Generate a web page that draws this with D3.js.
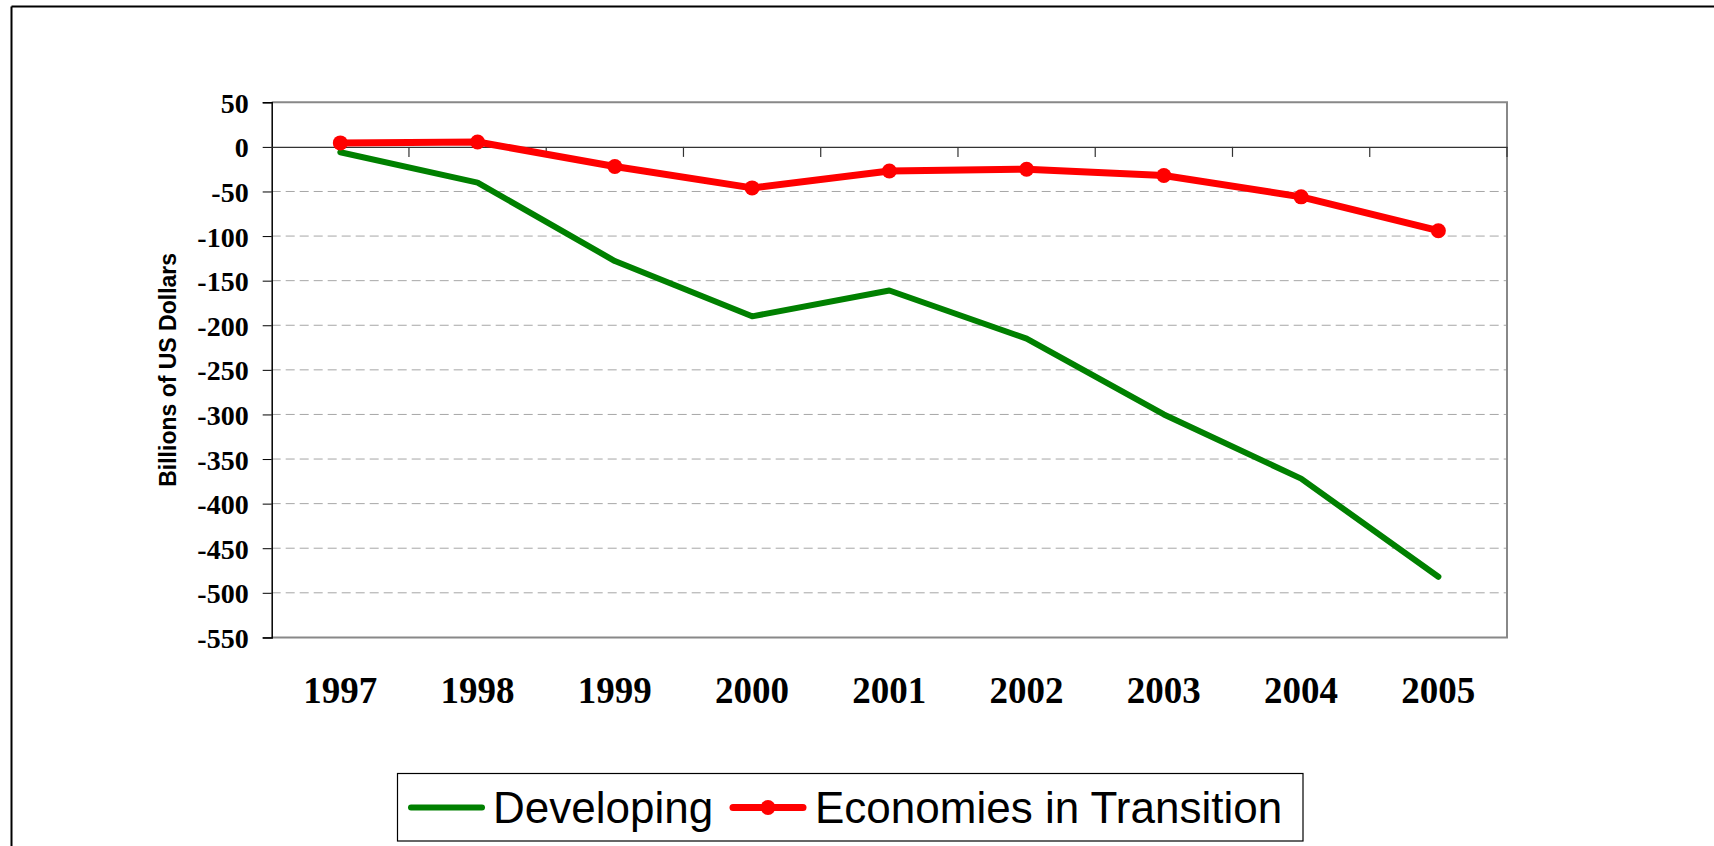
<!DOCTYPE html>
<html>
<head>
<meta charset="utf-8">
<script src="https://cdn.jsdelivr.net/npm/d3@7"></script>
<style>
  html, body { margin: 0; padding: 0; background: #fff; }
  svg { display: block; }
</style>
</head>
<body>
<svg id="chart" width="1714" height="846"></svg>
<script>
const years = ["1997", "1998", "1999", "2000", "2001", "2002", "2003", "2004", "2005"];
const developing = [-6, -40, -128, -190, -161, -215, -300, -372, -482];
const transition = [4.5, 5.5, -22, -46, -27, -25, -32, -56, -94];
const yTicks = [50, 0, -50, -100, -150, -200, -250, -300, -350, -400, -450, -500, -550];
const seriesNames = ["Developing", "Economies in Transition"];

const svg = d3.select("#chart");
const L = 271.7, R = 1507, T = 102.3, B = 637.4;

const x = d3.scaleBand().domain(years).range([L, R]).padding(0);
const y = d3.scaleLinear().domain([-550, 50]).range([B, T]);
const cx = d => x(d) + x.bandwidth() / 2;

// outer frame
svg.append("line").attr("x1", 11.5).attr("x2", 1714).attr("y1", 6.5).attr("y2", 6.5)
  .attr("stroke", "#000").attr("stroke-width", 2);
svg.append("line").attr("x1", 11.5).attr("x2", 11.5).attr("y1", 6.5).attr("y2", 846)
  .attr("stroke", "#000").attr("stroke-width", 2);

// gridlines
svg.append("g").selectAll("line")
  .data(yTicks.filter(v => v !== 50 && v !== 0 && v !== -550))
  .join("line")
  .attr("x1", L).attr("x2", R)
  .attr("y1", d => y(d)).attr("y2", d => y(d))
  .attr("stroke", "#a6a6a6").attr("stroke-width", 1)
  .attr("stroke-dasharray", "9,5");

// plot border (top, right, bottom)
svg.append("path")
  .attr("d", `M${L},${T}H${R}V${B}H${L}`)
  .attr("fill", "none").attr("stroke", "#888").attr("stroke-width", 2);

// y axis
const yAxis = svg.append("g")
  .attr("transform", `translate(${L},0)`)
  .call(d3.axisLeft(y).tickValues(yTicks).tickSize(9).tickPadding(14).tickFormat(d => String(d)));
yAxis.select(".domain").attr("stroke", "#000").attr("stroke-width", 1.5);
yAxis.selectAll(".tick line").attr("stroke", "#000").attr("stroke-width", 1);
yAxis.selectAll(".tick text")
  .attr("font-family", "'Liberation Serif', 'Times New Roman', serif")
  .attr("font-weight", "bold").attr("font-size", 28).attr("fill", "#000")
  .attr("dy", "0.36em");

// x axis at zero with labels at bottom
const xAxis = svg.append("g")
  .attr("transform", `translate(0,${y(0)})`)
  .call(d3.axisBottom(x).tickSize(0).tickPadding(0));
xAxis.select(".domain").attr("stroke", "#333").attr("stroke-width", 1.2);
xAxis.selectAll(".tick text")
  .attr("font-family", "'Liberation Serif', 'Times New Roman', serif")
  .attr("font-weight", "bold").attr("font-size", 37).attr("fill", "#000")
  .attr("y", 703 - y(0)).attr("dy", 0);

// boundary ticks on x axis
const bounds = years.slice(1).map(d => x(d)).concat([R]);
svg.append("g").selectAll("line").data(bounds).join("line")
  .attr("x1", d => d).attr("x2", d => d)
  .attr("y1", y(0)).attr("y2", y(0) + 10)
  .attr("stroke", "#333").attr("stroke-width", 1.2);

// y axis title
svg.append("text")
  .attr("transform", `translate(168,${(T + B) / 2}) rotate(-90)`)
  .attr("text-anchor", "middle").attr("dominant-baseline", "central")
  .attr("font-family", "'Liberation Sans', Arial, sans-serif")
  .attr("font-weight", "bold").attr("font-size", 23)
  .text("Billions of US Dollars");

// lines
const line = d3.line().x((d, i) => cx(years[i])).y(d => y(d));
svg.append("path").datum(developing)
  .attr("d", line).attr("fill", "none")
  .attr("stroke", "#008000").attr("stroke-width", 6)
  .attr("stroke-linejoin", "round").attr("stroke-linecap", "round");
svg.append("path").datum(transition)
  .attr("d", line).attr("fill", "none")
  .attr("stroke", "#ff0000").attr("stroke-width", 7)
  .attr("stroke-linejoin", "round").attr("stroke-linecap", "round");
svg.append("g").selectAll("circle").data(transition).join("circle")
  .attr("cx", (d, i) => cx(years[i])).attr("cy", d => y(d))
  .attr("r", 7.5).attr("fill", "#ff0000");

// legend
const lg = svg.append("g");
lg.append("rect").attr("x", 397.5).attr("y", 773.5).attr("width", 905.5).attr("height", 67.5)
  .attr("fill", "#fff").attr("stroke", "#000").attr("stroke-width", 1.2);
const ly = 807.5;
lg.append("line").attr("x1", 411).attr("x2", 482).attr("y1", ly).attr("y2", ly)
  .attr("stroke", "#008000").attr("stroke-width", 6).attr("stroke-linecap", "round");
lg.append("text").attr("x", 493).attr("y", ly).attr("dy", "0.36em")
  .attr("font-family", "'Liberation Sans', Arial, sans-serif").attr("font-size", 44)
  .text(seriesNames[0]);
lg.append("line").attr("x1", 733).attr("x2", 803).attr("y1", ly).attr("y2", ly)
  .attr("stroke", "#ff0000").attr("stroke-width", 7).attr("stroke-linecap", "round");
lg.append("circle").attr("cx", 768).attr("cy", ly).attr("r", 7.5).attr("fill", "#ff0000");
lg.append("text").attr("x", 815).attr("y", ly).attr("dy", "0.36em")
  .attr("font-family", "'Liberation Sans', Arial, sans-serif").attr("font-size", 44)
  .text(seriesNames[1]);
</script>
</body>
</html>
